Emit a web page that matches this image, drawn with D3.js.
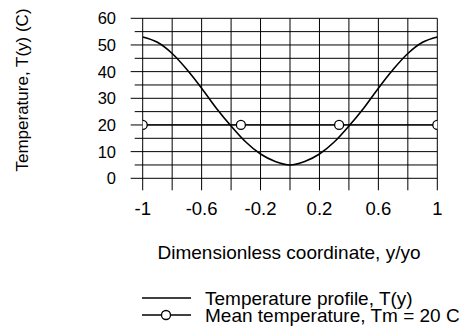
<!DOCTYPE html>
<html>
<head>
<meta charset="utf-8">
<script src="https://cdn.jsdelivr.net/npm/d3@7"></script>
<style>
html,body{margin:0;padding:0;background:#fff;}
svg text{font-family:"Liberation Sans",Arial,sans-serif;fill:#000;}
</style>
</head>
<body>
<svg id="chart" width="464" height="331"></svg>
<script>
// Data
const profileY = [-1,-0.9,-0.8,-0.7,-0.6,-0.5,-0.4,-0.3,-0.2,-0.1,0,0.1,0.2,0.3,0.4,0.5,0.6,0.7,0.8,0.9,1];
const profileT = [53.0,51.0,46.8,40.8,33.8,26.3,19.6,13.6,9.1,6.3,5.0,6.3,9.1,13.6,19.6,26.3,33.8,40.8,46.8,51.0,53.0];
const meanY = [-1,-1/3,1/3,1];
const meanT = [20,20,20,20];
const xTickLabels = [-1,-0.6,-0.2,0.2,0.6,1];
const yTickLabels = [0,10,20,30,40,50,60];
const legendLabels = ["Temperature profile, T(y)","Mean temperature, Tm = 20 C"];

const svg = d3.select("#chart");
const L = 142.7, R = 437.3, T = 18.3, B = 178.3;
const x = d3.scaleLinear().domain([-1,1]).range([L,R]);
const y = d3.scaleLinear().domain([0,60]).range([B,T]);

const g = svg.append("g");
// vertical grid lines (every 0.2) with ticks below
const xGrid = d3.range(-1,1.0001,0.2);
g.selectAll(".vg").data(xGrid).enter().append("line")
  .attr("x1",d=>x(d)).attr("x2",d=>x(d))
  .attr("y1",T).attr("y2",B+12)
  .attr("stroke","#000").attr("stroke-width",1);
// horizontal grid lines (every 5)
const yGrid = d3.range(0,60.001,5);
g.selectAll(".hg").data(yGrid).enter().append("line")
  .attr("x1",d=> (Math.round(d)%10===0)? L-12 : L-8).attr("x2",R)
  .attr("y1",d=>y(d)).attr("y2",d=>y(d))
  .attr("stroke","#000").attr("stroke-width",1);

// tick labels
g.selectAll(".xt").data(xTickLabels).enter().append("text")
  .attr("x",d=>x(d)).attr("y",215)
  .attr("text-anchor","middle").attr("font-size",18.5)
  .text(d=>String(d));
g.selectAll(".yt").data(yTickLabels).enter().append("text")
  .attr("x",116).attr("y",d=>y(d)+6)
  .attr("text-anchor","end").attr("font-size",16.5)
  .text(d=>String(d));

// axis titles
svg.append("text").attr("x",289).attr("y",258.5)
  .attr("text-anchor","middle").attr("font-size",19)
  .text("Dimensionless coordinate, y/yo");
svg.append("text").attr("transform","translate(28,90) rotate(-90)")
  .attr("text-anchor","middle").attr("font-size",17)
  .text("Temperature, T(y) (C)");

// clip
svg.append("clipPath").attr("id","clip").append("rect")
  .attr("x",L).attr("y",T).attr("width",R-L).attr("height",B-T);
const plot = svg.append("g").attr("clip-path","url(#clip)");

const prof = profileY.map((v,i)=>[v,profileT[i]]);
const line = d3.line().x(d=>x(d[0])).y(d=>y(d[1])).curve(d3.curveMonotoneX);
plot.append("path").datum(prof).attr("d",line)
  .attr("fill","none").attr("stroke","#000").attr("stroke-width",1.6);

const mean = meanY.map((v,i)=>[v,meanT[i]]);
plot.append("path").datum(mean).attr("d",d3.line().x(d=>x(d[0])).y(d=>y(d[1])))
  .attr("fill","none").attr("stroke","#000").attr("stroke-width",1.3);
plot.selectAll(".mk").data(mean).enter().append("circle")
  .attr("cx",d=>x(d[0])).attr("cy",d=>y(d[1])).attr("r",4.5)
  .attr("fill","#fff").attr("stroke","#000").attr("stroke-width",1.3);

// legend
const leg = svg.append("g");
const ly = [298, 315];
leg.append("line").attr("x1",142).attr("x2",191).attr("y1",ly[0]).attr("y2",ly[0])
  .attr("stroke","#000").attr("stroke-width",1.3);
leg.append("line").attr("x1",142).attr("x2",191).attr("y1",ly[1]).attr("y2",ly[1])
  .attr("stroke","#000").attr("stroke-width",1.3);
leg.append("circle").attr("cx",166).attr("cy",ly[1]).attr("r",4.5)
  .attr("fill","#fff").attr("stroke","#000").attr("stroke-width",1.3);
leg.selectAll(".lt").data(legendLabels).enter().append("text")
  .attr("x",205).attr("y",(d,i)=>ly[i]+6.5).attr("font-size",19)
  .text(d=>d);
</script>
</body>
</html>
